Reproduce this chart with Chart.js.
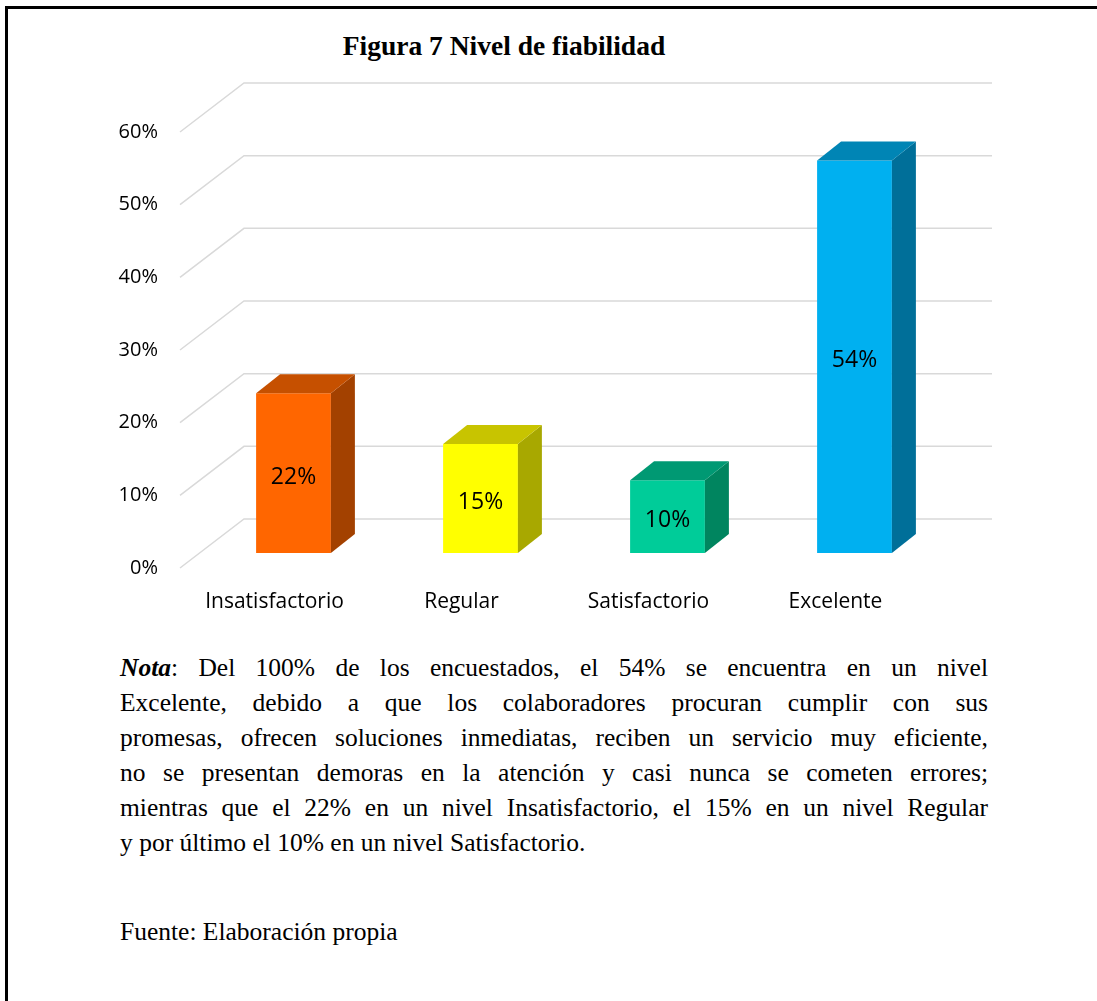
<!DOCTYPE html>
<html>
<head>
<meta charset="utf-8">
<script src="https://cdn.jsdelivr.net/npm/chart.js@4.4.1/dist/chart.umd.min.js"></script>
<style>
  html, body { margin: 0; padding: 0; background: #fff; overflow: hidden; }
  body { width: 1097px; height: 1001px; position: relative; }
  #frame {
    position: absolute; left: 5px; top: 6px; width: 1200px; height: 1100px;
    border: 3px solid #000; box-sizing: border-box;
  }
  #title {
    position: absolute; left: 0; top: 31px; width: 1008px; text-align: center;
    font: bold 27.5px "Liberation Serif", "Times New Roman", serif; line-height: 30px;
  }
  #plot-fiabilidad { position: absolute; left: 0; top: 0; }
  .txt {
    position: absolute; left: 120px; width: 868px;
    font: 25.5px "Liberation Serif", "Times New Roman", serif; line-height: 35px; color: #000;
  }
  .txt div { text-align: justify; text-align-last: justify; white-space: nowrap; }
  .txt div.last { text-align-last: left; }
</style>
</head>
<body>
<div id="frame"></div>
<div id="title">Figura 7 Nivel de fiabilidad</div>
<canvas id="plot-fiabilidad" width="1097" height="640"></canvas>
<div class="txt" style="top:650px">
  <div><b><i>Nota</i></b>: Del 100% de los encuestados, el 54% se encuentra en un nivel</div>
  <div>Excelente, debido a que los colaboradores procuran cumplir con sus</div>
  <div>promesas, ofrecen soluciones inmediatas, reciben un servicio muy eficiente,</div>
  <div>no se presentan demoras en la atención y casi nunca se cometen errores;</div>
  <div>mientras que el 22% en un nivel Insatisfactorio, el 15% en un nivel Regular</div>
  <div class="last">y por último el 10% en un nivel Satisfactorio.</div>
</div>
<div class="txt" style="top:914px"><div class="last">Fuente: Elaboración propia</div></div>
<script>
const categories = ["Insatisfactorio", "Regular", "Satisfactorio", "Excelente"];
const percentages = [22, 15, 10, 54];
const yTicks = [0, 10, 20, 30, 40, 50, 60];

const frontColors = ["#FF6600", "#FFFF00", "#00CC99", "#00B0F0"];
const sideColors = ["#A34100", "#A8A800", "#00855F", "#006F99"];
const topColors = ["#C65000", "#C8C400", "#009973", "#0085B5"];

const labelFont = '"Open Sans", sans-serif';

// fake 3d: bar depth and back wall offset
const depthPlugin = {
  id: "depth",
  beforeDatasetsDraw(chart) {
    const { ctx, chartArea, scales } = chart;
    ctx.save();
    ctx.strokeStyle = "#d9d9d9";
    ctx.lineWidth = 1.5;
    yTicks.forEach((v) => {
      const py = scales.y.getPixelForValue(v);
      ctx.beginPath();
      ctx.moveTo(chartArea.left - 20, py + 15);
      ctx.lineTo(chartArea.left + 44, py - 34);
      ctx.lineTo(chartArea.right + 44, py - 34);
      ctx.stroke();
    });
    ctx.restore();
  },
  afterDatasetsDraw(chart) {
    const { ctx } = chart;
    const meta = chart.getDatasetMeta(0);
    const dx = 24, dy = 19;
    ctx.save();
    meta.data.forEach((bar, i) => {
      const p = bar.getProps(["x", "y", "base", "width"], true);
      const x1 = p.x - p.width / 2, x2 = p.x + p.width / 2;
      ctx.fillStyle = sideColors[i];
      ctx.beginPath();
      ctx.moveTo(x2, p.y);
      ctx.lineTo(x2 + dx, p.y - dy);
      ctx.lineTo(x2 + dx, p.base - dy);
      ctx.lineTo(x2, p.base);
      ctx.closePath();
      ctx.fill();
      ctx.fillStyle = topColors[i];
      ctx.beginPath();
      ctx.moveTo(x1, p.y);
      ctx.lineTo(x1 + dx, p.y - dy);
      ctx.lineTo(x2 + dx, p.y - dy);
      ctx.lineTo(x2, p.y);
      ctx.closePath();
      ctx.fill();
      ctx.fillStyle = "#000";
      ctx.font = "23px " + labelFont;
      ctx.textAlign = "center";
      ctx.textBaseline = "middle";
      ctx.fillText(percentages[i] + "%", p.x, (p.y + p.base) / 2 + 4);
    });
    ctx.restore();
  },
};

new Chart(document.getElementById("plot-fiabilidad"), {
  type: "bar",
  data: {
    labels: categories,
    datasets: [
      {
        data: percentages,
        backgroundColor: frontColors,
        borderWidth: 0,
        barPercentage: 0.4,
        categoryPercentage: 1,
      },
    ],
  },
  options: {
    responsive: false,
    animation: false,
    events: [],
    layout: { padding: { left: 0, right: 149, top: 117, bottom: 0 } },
    plugins: { legend: { display: false }, tooltip: { enabled: false } },
    scales: {
      x: {
        grid: { display: false, drawTicks: false },
        border: { display: false },
        ticks: {
          font: { family: labelFont, size: 21 },
          color: "#000",
          padding: 36,
          labelOffset: -19,
          autoSkip: false,
          maxRotation: 0,
        },
        afterFit(scale) { scale.height = 87; },
      },
      y: {
        min: 0,
        max: 60,
        grid: { display: false, drawTicks: false },
        border: { display: false },
        ticks: {
          stepSize: 10,
          font: { family: labelFont, size: 20 },
          color: "#000",
          padding: 42,
          labelOffset: 15,
          callback: (v) => v + "%",
        },
        afterFit(scale) { scale.width = 200; },
      },
    },
  },
  plugins: [depthPlugin],
});
</script>
</body>
</html>
